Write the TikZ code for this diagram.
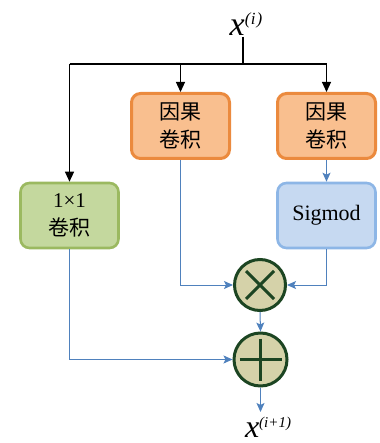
\documentclass[tikz,border=0pt]{standalone}
\usepackage{fontspec}
\setmainfont{Liberation Serif}
\newfontfamily\cjk{Noto Sans CJK SC}
\usetikzlibrary{arrows.meta,calc}
\definecolor{orfill}{HTML}{F9BF8F}
\definecolor{ordraw}{HTML}{EB8A3E}
\definecolor{grfill}{HTML}{C4D89E}
\definecolor{grdraw}{HTML}{9BB960}
\definecolor{blfill}{HTML}{C6D9F1}
\definecolor{bldraw}{HTML}{8DB6E6}
\definecolor{cifill}{HTML}{D5D2A9}
\definecolor{cidraw}{HTML}{1C4522}
\definecolor{arblue}{HTML}{4F81BD}
\begin{document}
\begin{tikzpicture}[x=1pt,y=-1pt,
  box/.style={rounded corners=9pt,line width=3pt,minimum width=98pt,minimum height=65pt,align=center,inner sep=0pt},
  orbox/.style={box,draw=ordraw,fill=orfill},
  grbox/.style={box,draw=grdraw,fill=grfill,line width=2.6pt},
  blbox/.style={box,draw=bldraw,fill=blfill,line width=2.6pt},
  opcirc/.style={circle,draw=cidraw,fill=cifill,line width=3pt,minimum size=51pt,inner sep=0pt},
  blk/.style={line width=1.2pt,-{Triangle[width=9pt,length=10pt]}},
  blu/.style={draw=arblue,line width=1pt,-{Stealth[width=8pt,length=9pt,inset=2pt]}},
  cjktext/.style={font=\cjk\fontsize{21}{28}\selectfont},
]
\useasboundingbox (0,0) rectangle (379,443);
\node[inner sep=0pt] (xi) at (246,24) {\fontsize{34}{34}\selectfont\itshape x\raisebox{11pt}{\fontsize{17}{17}\selectfont(\kern0.5pt i\kern1pt)}};
\coordinate (xtop) at (243,37);
\coordinate (j) at (243,64);
\node[orbox,cjktext] (o1) at (180.5,126) {因果\\卷积};
\node[orbox,cjktext] (o2) at (326.5,126) {因果\\卷积};
\node[grbox,font=\fontsize{21}{28}\selectfont] (g) at (69.5,215.5) {1×1\\{\cjk 卷积}};
\node[blbox,font=\fontsize{22}{22}\selectfont] (b) at (326.5,215.5) {Sigmod};
\node[opcirc] (m) at (260,285) {};
\node[opcirc,minimum size=53pt] (p) at (260.5,359.5) {};
\draw[cidraw,line width=3pt] ($(m.center)+(-14,-14)$) -- ($(m.center)+(14,14)$);
\draw[cidraw,line width=3pt] ($(m.center)+(-14,14)$) -- ($(m.center)+(14,-14)$);
\draw[cidraw,line width=3pt] ($(p.center)+(-21,0)$) -- ($(p.center)+(21,0)$);
\draw[cidraw,line width=3pt] ($(p.center)+(0,-21)$) -- ($(p.center)+(0,21)$);
\node[inner sep=0pt] (xo) at (268,427) {\fontsize{32}{32}\selectfont\itshape x\raisebox{10pt}{\fontsize{15}{15}\selectfont(i+1)}};
\coordinate (pout) at (260.5,412);
% black
\draw[line width=1.2pt] (xtop) -- (j);
\draw[line width=1.2pt] (69.5,64) -- (326.5,64);
\draw[blk] (69.5,64) -- (g.north);
\draw[blk] (180.5,64) -- (o1.north);
\draw[blk] (326.5,64) -- (o2.north);
% blue
\draw[blu] (o2.south) -- (b.north);
\draw[blu] (o1.south) |- (m.west);
\draw[blu] (b.south) |- (m.east);
\draw[blu] (m.south) -- (p.north);
\draw[blu] (g.south) |- (p.west);
\draw[blu] (p.south) -- (pout);
\end{tikzpicture}
\end{document}
